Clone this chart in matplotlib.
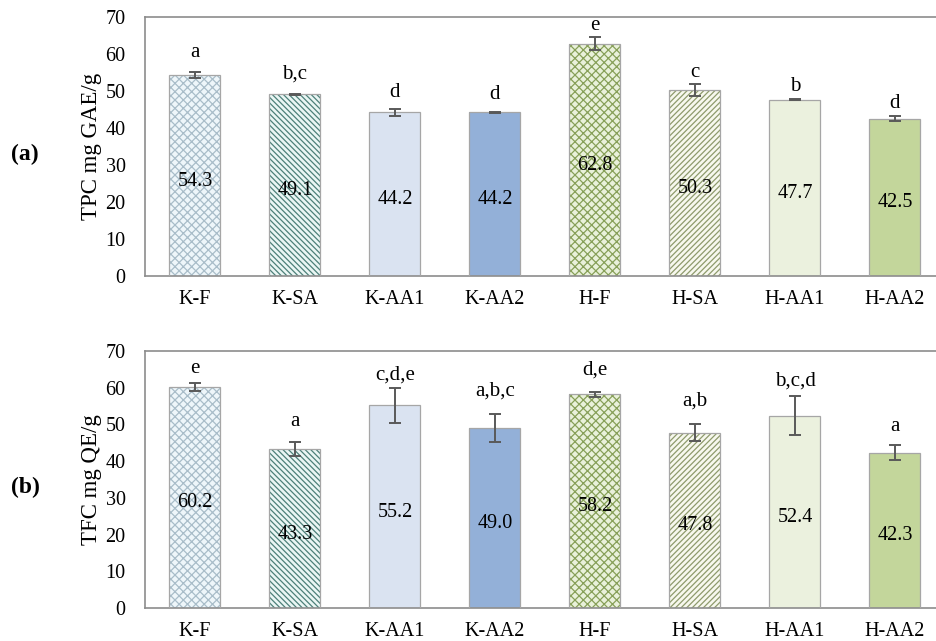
import matplotlib
matplotlib.use('Agg')
from matplotlib import pyplot as plt
import numpy as np

plt.rcParams['font.family'] = ['Liberation Serif', 'DejaVu Serif']
plt.rcParams['hatch.linewidth'] = 0.9

samples = ['K-F', 'K-SA', 'K-AA1', 'K-AA2', 'H-F', 'H-SA', 'H-AA1', 'H-AA2']

tpc = [54.3, 49.1, 44.2, 44.2, 62.8, 50.3, 47.7, 42.5]
tpc_err = [0.8, 0.2, 0.9, 0.2, 1.7, 1.7, 0.2, 0.7]
tpc_groups = ['a', 'b,c', 'd', 'd', 'e', 'c', 'b', 'd']

tfc = [60.2, 43.3, 55.2, 49.0, 58.2, 47.8, 52.4, 42.3]
tfc_err = [1.1, 2.0, 4.7, 3.9, 0.7, 2.4, 5.3, 2.0]
tfc_groups = ['e', 'a', 'c,d,e', 'a,b,c', 'd,e', 'a,b', 'b,c,d', 'a']

# fill colour, hatch pattern, hatch colour for each sample
fills = ['#eef6fa', '#eaf6f4', '#dae3f1', '#93b0d8',
         '#e9f1da', '#f7f8ee', '#ebf1de', '#c3d69b']
hatches = ['xxxx', '\\' * 6, '', '', 'xxxx', '//////', '', '']
hatch_colors = ['#a9bdc9', '#4d8079', None, None,
                '#87a058', '#8e9a6c', None, None]


def draw_panel(ax, values, errors, groups, ylabel, tag, letter_pad):
    x = np.arange(len(samples))
    for i in x:
        if hatches[i]:
            ax.bar(i, values[i], width=0.51, color=fills[i], hatch=hatches[i],
                   edgecolor=hatch_colors[i], linewidth=0, zorder=2)
        else:
            ax.bar(i, values[i], width=0.51, color=fills[i], linewidth=0, zorder=2)
        ax.bar(i, values[i], width=0.51, fill=False, edgecolor='#a6a6a6',
               linewidth=0.9, zorder=3)
    ax.errorbar(x, values, yerr=errors, fmt='none', ecolor='#595959',
                elinewidth=1.4, capsize=4, capthick=1.4, zorder=4)

    for i in x:
        ax.text(i, values[i] / 2 - 1.5, '%.1f' % values[i], ha='center',
                va='center', fontsize=14.5, zorder=5)
        ax.text(i, values[i] + errors[i] + letter_pad[i], groups[i],
                ha='center', va='baseline', fontsize=15, zorder=5)

    ax.set_xlim(-0.5, 7.5)
    ax.set_ylim(0, 70)
    ax.set_yticks(range(0, 71, 10))
    ax.set_xticks(x)
    ax.set_xticklabels(samples)
    ax.tick_params(axis='both', length=0, labelsize=14.5)
    ax.tick_params(axis='y', pad=14)
    ax.tick_params(axis='x', pad=10)
    for side in ['left', 'top', 'bottom']:
        ax.spines[side].set_color('#8c8c8c')
        ax.spines[side].set_linewidth(1.2)
    ax.spines['right'].set_visible(False)

    pos = ax.get_position()
    mid = pos.y0 + pos.height / 2
    ax.figure.text(92 / 936, mid, ylabel, rotation=90, ha='center',
                   va='center', fontsize=16.5)
    ax.figure.text(25 / 936, mid - 0.013, tag, ha='center', va='center',
                   fontsize=17, fontweight='bold')


fig = plt.figure(figsize=(9.36, 6.41), dpi=100)
ax_a = fig.add_axes([0.1549, 0.5694, 0.8547, 0.4041])
ax_b = fig.add_axes([0.1549, 0.0515, 0.8547, 0.4009])

draw_panel(ax_a, tpc, tpc_err, tpc_groups, 'TPC mg GAE/g', '(a)',
           [4.1, 4.1, 3.4, 3.4, 2.0, 1.9, 2.0, 2.2])
draw_panel(ax_b, tfc, tfc_err, tfc_groups, 'TFC mg QE/g', '(b)',
           [2.6, 4.3, 2.3, 4.9, 4.7, 5.0, 2.8, 4.0])

fig.savefig('out.png', dpi=100)
